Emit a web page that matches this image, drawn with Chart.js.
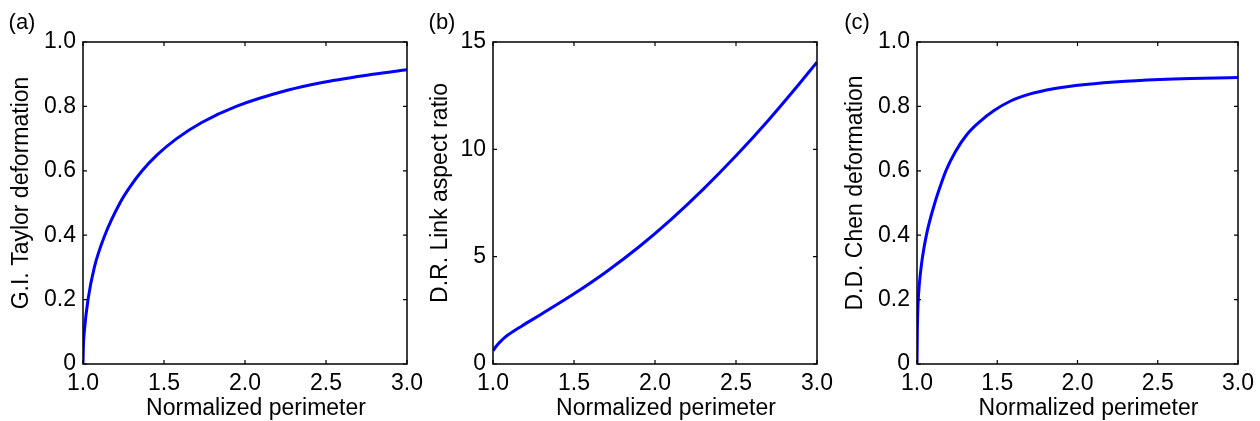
<!DOCTYPE html>
<html>
<head>
<meta charset="utf-8">
<script src="https://cdn.jsdelivr.net/npm/chart.js@4/dist/chart.umd.min.js"></script>
<style>
  body { margin: 0; background: #fff; }
  #wrap { position: relative; width: 1260px; height: 421px; overflow: hidden; }
  #wrap canvas { position: absolute; top: 0; }
</style>
</head>
<body>
<div id="wrap">
  <canvas id="chart-a" width="440" height="421" style="left:0px"></canvas>
  <canvas id="chart-b" width="440" height="421" style="left:420px"></canvas>
  <canvas id="chart-c" width="420" height="421" style="left:840px"></canvas>
</div>
<script>
// (a) G.I. Taylor deformation vs normalized perimeter
const perimA = [1.000, 1.002, 1.008, 1.031, 1.070, 1.135, 1.228, 1.290, 1.365, 1.459, 1.578, 1.733, 1.946, 2.261, 2.485, 2.790, 3.000];
const taylorD = [0, 0.05, 0.10, 0.20, 0.30, 0.40, 0.50, 0.55, 0.60, 0.65, 0.70, 0.75, 0.80, 0.85, 0.875, 0.90, 0.914];

// (b) D.R. Link aspect ratio vs normalized perimeter
const perimB = [1.000, 1.015, 1.030, 1.050, 1.070, 1.094, 1.176, 1.300, 1.500, 1.700, 1.900, 2.100, 2.300, 2.500, 2.700, 2.900, 3.000];
const linkAR = [0.62, 0.78, 0.92, 1.08, 1.22, 1.36, 1.76, 2.33, 3.27, 4.30, 5.45, 6.74, 8.16, 9.70, 11.36, 13.14, 14.06];

// (c) D.D. Chen deformation vs normalized perimeter
const perimC = [1.000, 1.002, 1.007, 1.015, 1.028, 1.045, 1.065, 1.085, 1.105, 1.130, 1.180, 1.240, 1.310, 1.390, 1.480, 1.580, 1.700, 1.850, 2.050, 2.300, 2.600, 3.000];
const chenD = [0, 0.10, 0.19, 0.25, 0.31, 0.365, 0.415, 0.455, 0.49, 0.53, 0.60, 0.66, 0.712, 0.752, 0.787, 0.816, 0.838, 0.855, 0.868, 0.878, 0.885, 0.890];

// shared axis settings / labels
const xTicks = [1.0, 1.5, 2.0, 2.5, 3.0];
const fracTicks = [0, 0.2, 0.4, 0.6, 0.8, 1.0];
const ratioTicks = [0, 5, 10, 15];
const xTitle = 'Normalized perimeter';

const FONT = "'Liberation Sans', Arial, Helvetica, sans-serif";

document.addEventListener('DOMContentLoaded', () => {

  // frame with inward ticks on all four sides, plus titles drawn by hand
  const framePlugin = {
    id: 'frame',
    afterDraw(chart, args, opts) {
      const { ctx, chartArea: a, scales } = chart;
      const tl = 4;
      ctx.save();
      ctx.strokeStyle = '#000';
      ctx.lineWidth = 1.5;
      ctx.strokeRect(a.left, a.top, a.right - a.left, a.bottom - a.top);
      ctx.lineWidth = 1.2;
      ctx.beginPath();
      scales.x.ticks.forEach(t => {
        const px = scales.x.getPixelForValue(t.value);
        ctx.moveTo(px, a.bottom); ctx.lineTo(px, a.bottom - tl);
        ctx.moveTo(px, a.top); ctx.lineTo(px, a.top + tl);
      });
      scales.y.ticks.forEach(t => {
        const py = scales.y.getPixelForValue(t.value);
        ctx.moveTo(a.left, py); ctx.lineTo(a.left + tl, py);
        ctx.moveTo(a.right, py); ctx.lineTo(a.right - tl, py);
      });
      ctx.stroke();

      ctx.fillStyle = '#000';
      ctx.textAlign = 'center';
      ctx.textBaseline = 'middle';
      ctx.font = '23px ' + FONT;
      // x title
      ctx.fillText(xTitle, (a.left + a.right) / 2 + 11, 409);
      // y title
      ctx.save();
      ctx.translate(opts.yTitleX, (a.top + a.bottom) / 2 - 10);
      ctx.rotate(-Math.PI / 2);
      ctx.fillText(opts.yTitle, 0, 0);
      ctx.restore();
      // panel label
      ctx.font = '22px ' + FONT;
      ctx.fillText(opts.tag, opts.tagX, 23);
      ctx.restore();
    }
  };

  const makePanel = (id, xs, ys, yTicks, cfg) => {
    const ctx = document.getElementById(id).getContext('2d');
    const yMax = yTicks[yTicks.length - 1];
    return new Chart(ctx, {
      type: 'line',
      data: {
        datasets: [{
          data: xs.map((x, i) => ({ x, y: ys[i] })),
          borderColor: '#0000ff',
          borderWidth: 3,
          pointRadius: 0,
          cubicInterpolationMode: 'monotone',
          fill: false
        }]
      },
      plugins: [framePlugin],
      options: {
        responsive: false,
        animation: false,
        devicePixelRatio: 1,
        layout: { padding: { top: 42, right: cfg.padRight, left: 0, bottom: 0 } },
        plugins: {
          legend: { display: false },
          tooltip: { enabled: false },
          frame: { yTitle: cfg.yTitle, yTitleX: cfg.yTitleX, tag: cfg.tag, tagX: cfg.tagX }
        },
        scales: {
          x: {
            type: 'linear',
            min: xTicks[0],
            max: xTicks[xTicks.length - 1],
            afterBuildTicks: s => { s.ticks = xTicks.map(v => ({ value: v })); },
            afterFit: s => { s.height = 57; },
            grid: { display: false, drawTicks: false },
            border: { display: false },
            ticks: {
              padding: 6,
              maxRotation: 0,
              color: '#000',
              font: { family: FONT, size: 23 },
              callback: v => Number(v).toFixed(1)
            }
          },
          y: {
            type: 'linear',
            min: yTicks[0],
            max: yMax,
            afterBuildTicks: s => { s.ticks = yTicks.map(v => ({ value: v })); },
            afterFit: s => { s.width = cfg.yWidth; },
            grid: { display: false, drawTicks: false },
            border: { display: false },
            ticks: {
              padding: 7,
              color: '#000',
              font: { family: FONT, size: 23 },
              callback: v => (v === 0 || yMax > 1) ? String(v) : Number(v).toFixed(1)
            }
          }
        }
      }
    });
  };

  makePanel('chart-a', perimA, taylorD, fracTicks,
    { yWidth: 83, padRight: 33, yTitle: 'G.I. Taylor deformation', yTitleX: 22, tag: '(a)', tagX: 22 });
  makePanel('chart-b', perimB, linkAR, ratioTicks,
    { yWidth: 73, padRight: 43, yTitle: 'D.R. Link aspect ratio', yTitleX: 21, tag: '(b)', tagX: 22 });
  makePanel('chart-c', perimC, chenD, fracTicks,
    { yWidth: 77, padRight: 19, yTitle: 'D.D. Chen deformation', yTitleX: 16, tag: '(c)', tagX: 17 });
});
</script>
</body>
</html>
